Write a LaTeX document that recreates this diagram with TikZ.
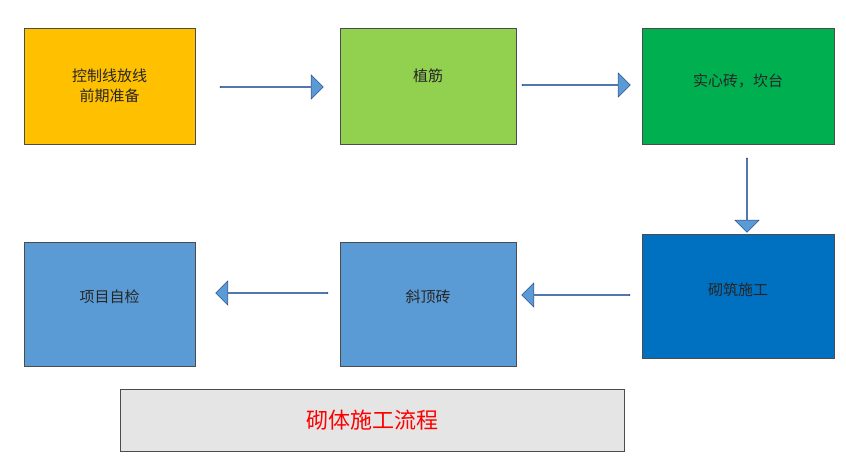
\documentclass[tikz,border=0pt]{standalone}
\usepackage{fontspec}
\newfontfamily\cjk{Noto Sans CJK SC}
\usetikzlibrary{shapes.arrows}
\definecolor{c1}{HTML}{FFC000}
\definecolor{c2}{HTML}{92D050}
\definecolor{c3}{HTML}{00B050}
\definecolor{c4}{HTML}{0070C0}
\definecolor{c5}{HTML}{5B9BD5}
\definecolor{arrline}{HTML}{2F528F}
\tikzset{
 stepbox/.style={draw=black!70,line width=0.6pt,inner sep=0pt,font=\cjk\fontsize{15}{20}\selectfont,text=black!85,align=center},
 blockarr/.style={single arrow,draw=arrline,fill=c5,line width=0.6pt,single arrow head extend=6pt,inner sep=0pt,minimum height=#1},
}
\begin{document}
\begin{tikzpicture}[x=1pt,y=-1pt]
\useasboundingbox (0,0) rectangle (846,461);
\node[stepbox,fill=c1,minimum width=171,minimum height=116] (b1) at (109.5,86) {控制线放线\\前期准备};
\node[stepbox,fill=c2,minimum width=176,minimum height=116,anchor=center] (b2) at (428,86) {\raisebox{22pt}{植筋}};
\node[stepbox,fill=c3,minimum width=192,minimum height=116] (b3) at (738,86) {\raisebox{12pt}{实心砖，坎台}};
\node[stepbox,fill=c4,minimum width=192,minimum height=124] (b4) at (738,296) {\raisebox{14pt}{砌筑施工}};
\node[stepbox,fill=c5,minimum width=176,minimum height=124] (b5) at (428,304) {\raisebox{16pt}{斜顶砖}};
\node[stepbox,fill=c5,minimum width=171,minimum height=124] (b6) at (109.5,304) {\raisebox{16pt}{项目自检}};
\node[draw=black!70,fill=black!10,line width=0.6pt,minimum width=504,minimum height=62,inner sep=0pt,font=\cjk\fontsize{22}{26}\selectfont,text=red] (t) at (372,420) {砌体施工流程};
\node[blockarr=103pt,minimum width=24pt] (a1) at (271.5,87) {};
\node[blockarr=108pt,minimum width=24pt] (a2) at (576,85) {};
\node[blockarr=74pt,minimum width=24pt,shape border rotate=270] (a3) at (747,195) {};
\node[blockarr=108pt,minimum width=24pt,shape border rotate=180] (a4) at (576,295) {};
\node[blockarr=112pt,minimum width=24pt,shape border rotate=180] (a5) at (272,293) {};
\end{tikzpicture}
\end{document}
